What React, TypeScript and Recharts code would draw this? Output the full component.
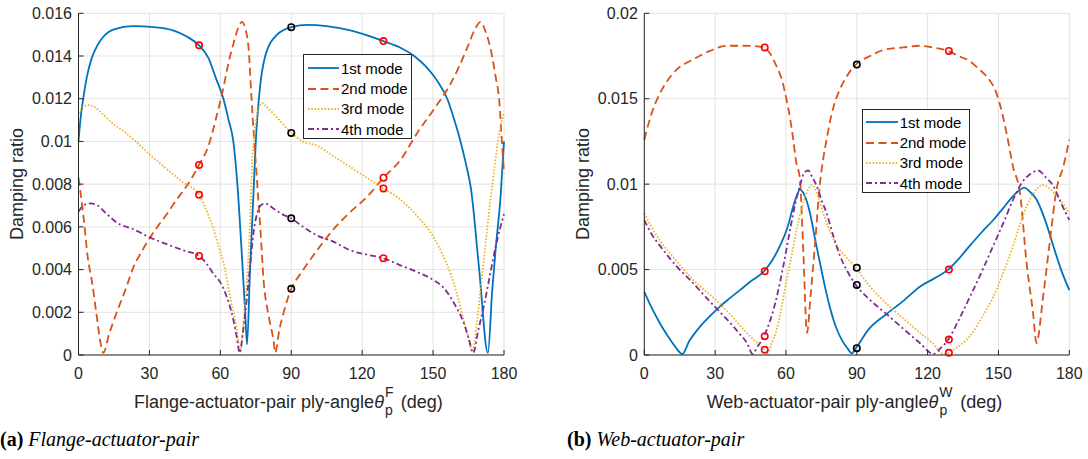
import React from 'react';
import {
  ComposedChart,
  Line,
  Scatter,
  XAxis,
  YAxis,
  CartesianGrid,
  Legend,
} from 'recharts';

type P = [number, number];

// ---------- shared ----------
const angleTicks = [0, 30, 60, 90, 120, 150, 180];
const modeNames = ['1st mode', '2nd mode', '3rd mode', '4th mode'];
const modeColors = ['#0072BD', '#D95319', '#EDB120', '#7E2F8E'];
const modeDashes = ['', '8 4.5', '1.5 1.8', '6 3 2 3'];

// ---------- (a) flange-actuator-pair ----------
const flangeYTicks = [0, 0.002, 0.004, 0.006, 0.008, 0.01, 0.012, 0.014, 0.016];

const flangeMode1: P[] = [
  [0, 0.01], [0.8, 0.011], [2, 0.012], [3.5, 0.013], [5.6, 0.0139], [8, 0.0145],
  [10.5, 0.0149], [15, 0.01525], [23, 0.0154], [32, 0.01535], [40, 0.0152], [46, 0.0149],
  [51, 0.0145], [55, 0.0139], [58, 0.013], [61.3, 0.012], [63.5, 0.011], [65.5, 0.01],
  [67.2, 0.008], [69.2, 0.0045], [70.5, 0.002], [71.3, 0.0005], [72.5, 0.0038],
  [74, 0.0075], [75, 0.01], [76.3, 0.012], [79, 0.014], [84, 0.015], [90, 0.01535],
  [97, 0.01546], [105, 0.0154], [115, 0.0152], [129, 0.0147], [136, 0.0144],
  [142, 0.014], [147, 0.0135], [152, 0.0128], [156, 0.012], [159, 0.011],
  [161.6, 0.01], [164, 0.0089], [166, 0.0078], [169.5, 0.004], [173.2, 0.0001],
  [175, 0.003], [176.5, 0.005], [178.6, 0.0075], [180, 0.01],
];
const flangeMode2: P[] = [
  [0, 0.0083], [2, 0.0066], [4, 0.0045], [5.6, 0.0035], [7.5, 0.002], [9.1, 0.0007],
  [10.5, 0.0001], [13, 0.001], [16.2, 0.002], [20, 0.0031], [23.2, 0.0041], [27, 0.0049],
  [30.3, 0.0055], [34, 0.0061], [37.4, 0.0066], [41, 0.0072], [44.4, 0.0077], [48, 0.0083],
  [51, 0.0089], [55, 0.0098], [58, 0.011], [61.4, 0.01257], [63.5, 0.0137], [65.6, 0.0146],
  [67.5, 0.0153], [69.2, 0.0156], [70.5, 0.0153], [72, 0.0143], [73.2, 0.012],
  [74.1, 0.0104], [75.5, 0.0082], [77, 0.0058], [78.3, 0.0035], [80.5, 0.0018],
  [82.6, 0.0006], [83.2, 0.0001], [85, 0.0012], [86.8, 0.002], [90, 0.0031],
  [93.9, 0.0038], [97, 0.0043], [100.9, 0.0049], [108, 0.0059], [115, 0.0067],
  [122, 0.0074], [129, 0.0083], [136, 0.0091], [143.3, 0.0104], [150.3, 0.0115],
  [157.4, 0.0127], [161, 0.0135], [164.5, 0.0144], [167.5, 0.0152], [170.1, 0.0156],
  [172, 0.0152], [174.4, 0.0143], [176.5, 0.013], [178, 0.0119], [179, 0.0102],
  [180, 0.0085],
];
const flangeMode3: P[] = [
  [0, 0.0113], [2, 0.0116], [4.2, 0.0117], [7, 0.0116], [10, 0.0113], [15, 0.0108],
  [20, 0.0104], [23.2, 0.0101], [30, 0.0094], [37.4, 0.0087], [44, 0.0081], [51, 0.0075],
  [54, 0.0068], [57.1, 0.0059], [59.5, 0.005], [61.4, 0.0043], [64.2, 0.0027],
  [67, 0.0012], [68.4, 0.00015], [70, 0.0018], [71.3, 0.0035], [72.7, 0.0066],
  [73.4, 0.0088], [74.5, 0.0104], [75.5, 0.0112], [77.6, 0.0118], [79.7, 0.0116],
  [85, 0.011], [90, 0.0104], [95, 0.01], [100.9, 0.0098], [108, 0.0093], [115, 0.0088],
  [122, 0.0083], [129, 0.0078], [136, 0.0073], [143.3, 0.0065], [150.3, 0.0055],
  [154, 0.0047], [157.4, 0.0038], [160, 0.0029], [163, 0.0016], [165, 0.0008],
  [166.6, 0.00015], [168.5, 0.0015], [170.5, 0.0035], [172.5, 0.0055], [174.3, 0.0073],
  [176, 0.0088], [178, 0.0104], [180, 0.0113],
];
const flangeMode4: P[] = [
  [0, 0.0067], [2, 0.007], [4.9, 0.0071], [8, 0.007], [12, 0.0066], [16.2, 0.0062],
  [23, 0.0059], [30.3, 0.0055], [37, 0.0052], [44.4, 0.0049], [51, 0.00464],
  [54, 0.0043], [57.1, 0.0038], [60, 0.0034], [62.8, 0.0027], [64.5, 0.0021],
  [65.6, 0.0016], [67, 0.0008], [68.2, 0.0001], [69.5, 0.001], [70.6, 0.002],
  [72.7, 0.0043], [74, 0.0057], [75.5, 0.0066], [77, 0.007], [79, 0.0071], [82, 0.0069],
  [86, 0.0066], [90, 0.0064], [95, 0.006], [100.9, 0.0056], [108, 0.0053], [115, 0.0049],
  [122, 0.0047], [129, 0.00453], [136.2, 0.0042], [143, 0.0039], [150.3, 0.0035],
  [154, 0.0032], [157.4, 0.0027], [160, 0.0022], [163, 0.0015], [165, 0.0008],
  [167, 0.0001], [169, 0.0011], [171.5, 0.0023], [174, 0.0037], [176.5, 0.0051],
  [178.5, 0.006], [180, 0.0066],
];
const flangeRedMarks: P[] = [
  [51, 0.0145], [51, 0.0089], [51, 0.0075], [51, 0.00464],
  [129, 0.0147], [129, 0.0083], [129, 0.0078], [129, 0.00453],
];
const flangeBlackMarks: P[] = [[90, 0.01535], [90, 0.0104], [90, 0.0064], [90, 0.0031]];

// ---------- (b) web-actuator-pair ----------
const webYTicks = [0, 0.005, 0.01, 0.015, 0.02];

const webMode1: P[] = [
  [0, 0.0037], [3, 0.0028], [6.6, 0.00186], [10, 0.0011], [13, 0.0005], [16.1, 0.00006],
  [19, 0.0008], [23.6, 0.00166], [28, 0.0023], [32, 0.00283], [36, 0.0033], [40.5, 0.0038],
  [45, 0.0043], [50.7, 0.0049], [54, 0.0055], [57.5, 0.0064], [60.5, 0.0074],
  [63.1, 0.0087], [64.8, 0.0094], [65.9, 0.0097], [67.3, 0.0095], [70.2, 0.0083],
  [72.3, 0.0068], [74.4, 0.0054], [76.5, 0.004], [78.6, 0.0028], [81, 0.0017],
  [84, 0.0008], [86, 0.0004], [87.8, 0.0001], [89.6, 0.0004], [95, 0.0015],
  [102.6, 0.0024], [110, 0.0032], [116.7, 0.004], [123, 0.0045], [128.7, 0.005],
  [133, 0.0056], [137.9, 0.0064], [143, 0.0072], [147.8, 0.0079], [152, 0.0086],
  [156.2, 0.0093], [158.5, 0.0096], [160.8, 0.0098], [163, 0.0096], [166.1, 0.0091],
  [169.5, 0.008], [173.2, 0.0064], [176.5, 0.005], [180, 0.0038],
];
const webMode2: P[] = [
  [0, 0.0126], [3, 0.0141], [6.6, 0.0153], [10, 0.0161], [13.7, 0.0167], [20.7, 0.0173],
  [27.8, 0.0178], [34.9, 0.0181], [42, 0.0181], [47, 0.01808], [50.7, 0.018],
  [53.5, 0.0176], [56, 0.0169], [58.5, 0.016], [60.3, 0.0149], [61.8, 0.0138],
  [63.1, 0.0126], [64.2, 0.0114], [65.9, 0.0103], [67.4, 0.0059], [68.9, 0.0013],
  [70.5, 0.0036], [72.3, 0.0065], [74.3, 0.0099], [75.8, 0.0115], [77.2, 0.0126],
  [79, 0.0139], [81, 0.0149], [83, 0.0156], [85.7, 0.0163], [89.6, 0.017],
  [95.6, 0.0175], [102.6, 0.0179], [109.7, 0.018], [116.7, 0.0181], [122, 0.018],
  [128.7, 0.0178], [133, 0.0175], [137.9, 0.0172], [142, 0.0167], [145, 0.0163],
  [149.2, 0.0153], [151.5, 0.0142], [153.4, 0.013], [156.2, 0.011], [159.1, 0.0095],
  [161.9, 0.0054], [164.7, 0.0024], [166.1, 0.0007], [168.9, 0.0034], [171.8, 0.0067],
  [174.6, 0.0097], [177.4, 0.011], [180, 0.0126],
];
const webMode3: P[] = [
  [0, 0.0083], [3, 0.0075], [6.6, 0.0067], [13, 0.0056], [20.7, 0.0044], [28, 0.0035],
  [34.9, 0.0026], [40, 0.0018], [43.4, 0.0013], [47, 0.0008], [50.7, 0.0003],
  [51.8, 0.00006], [54, 0.0007], [56.1, 0.0015], [58, 0.0027], [60.3, 0.0044],
  [62.5, 0.0059], [64.5, 0.0073], [66.5, 0.0085], [68.8, 0.0095], [71.1, 0.00996],
  [73.5, 0.0093], [75.8, 0.0083], [78.5, 0.0073], [81.5, 0.0064], [85, 0.0058],
  [89.6, 0.0051], [95, 0.0041], [102.6, 0.003], [110, 0.0021], [116.7, 0.0013],
  [122, 0.0007], [126.6, 0.00006], [128.7, 0.00013], [132, 0.0004], [137.9, 0.0011],
  [143, 0.0022], [147.8, 0.0034], [152, 0.0048], [156.2, 0.0064], [159, 0.0076],
  [161.9, 0.0087], [165, 0.0095], [168.7, 0.00996], [172, 0.0097], [176, 0.0091],
  [180, 0.0083],
];
const webMode4: P[] = [
  [0, 0.0079], [3, 0.0071], [6.6, 0.0064], [13, 0.0053], [20.7, 0.0042], [28, 0.0031],
  [34.9, 0.0021], [40, 0.0013], [43.5, 0.0007], [45.9, 0.00006], [48, 0.0005],
  [50.7, 0.0011], [53.5, 0.0021], [56.1, 0.0034], [59, 0.0053], [61.7, 0.0073],
  [64, 0.0089], [65.9, 0.0099], [67.5, 0.0106], [69.4, 0.0108], [71.2, 0.0104],
  [73, 0.0099], [75, 0.0091], [77.2, 0.0083], [80, 0.007], [82.9, 0.0058], [86, 0.0049],
  [89.6, 0.0041], [95, 0.0033], [102.6, 0.0024], [110, 0.0015], [116.7, 0.0007],
  [122.4, 0.00006], [125.5, 0.0004], [128.7, 0.0009], [133, 0.002], [137.9, 0.0034],
  [143, 0.0049], [147.8, 0.0064], [152, 0.0077], [156.2, 0.0091], [160, 0.0101],
  [163.5, 0.0106], [166.8, 0.0108], [170, 0.0104], [173.2, 0.0099], [176.5, 0.0089],
  [180, 0.0079],
];
const webRedMarks: P[] = [
  [51, 0.018], [51, 0.0049], [51, 0.0011], [51, 0.0003],
  [129, 0.0178], [129, 0.005], [129, 0.0009], [129, 0.00013],
];
const webBlackMarks: P[] = [[90, 0.017], [90, 0.0051], [90, 0.0041], [90, 0.0004]];

// ---------- helpers ----------
const toPts = (a: P[]) => a.map(([x, y]) => ({ x, y }));
const SANS = '"Liberation Sans", Arial, Helvetica, sans-serif';
const AX = '#262626';

const ringShape = (color: string) => (props: any) => (
  <circle cx={props.cx} cy={props.cy} r={3.2} fill="none" stroke={color} strokeWidth={1.6} />
);

function LegendBox({ w, h, padTop, lineX0 }: { w: number; h: number; padTop: number; lineX0: number }) {
  return (
    <div
      style={{
        width: w,
        height: h,
        boxSizing: 'border-box',
        border: `1px solid ${AX}`,
        background: '#fff',
        paddingTop: padTop,
        fontFamily: SANS,
        fontSize: 15,
        color: '#000',
      }}
    >
      {modeNames.map((n, i) => (
        <div key={n} style={{ display: 'flex', alignItems: 'center', height: 20.4, whiteSpace: 'nowrap' }}>
          <svg width={36} height={10} style={{ display: 'block', flex: 'none' }}>
            <line
              x1={lineX0}
              x2={35}
              y1={5}
              y2={5}
              stroke={modeColors[i]}
              strokeWidth={1.8}
              strokeDasharray={modeDashes[i] || undefined}
            />
          </svg>
          <span style={{ marginLeft: 1 }}>{n}</span>
        </div>
      ))}
    </div>
  );
}

type PanelProps = {
  modes: P[][];
  red: P[];
  black: P[];
  yTicks: number[];
  yMax: number;
  marginLeft: number;
  marginRight: number;
  xLabelStart: number;
  xLabelMain: string;
  xSup: string;
  yLabelX: number;
  legend: { left: number; top: number; w: number; h: number; padTop: number; lineX0: number };
};

function Panel(p: PanelProps) {
  const xLabel = () => (
    <text x={p.xLabelStart} y={408} fontFamily={SANS} fontSize={18} fill={AX} textAnchor="start">
      {p.xLabelMain}
      <tspan fontStyle="italic">θ</tspan>
      <tspan fontSize={14} dx={1} dy={-11}>{p.xSup}</tspan>
      <tspan fontSize={14} dx={p.xSup === 'W' ? -13 : -8.5} dy={18}>p</tspan>
      <tspan dx={p.xSup === 'W' ? 8 : 3} dy={-7}> (deg)</tspan>
    </text>
  );
  const yLabel = () => (
    <text
      x={p.yLabelX}
      y={184}
      transform={`rotate(-90, ${p.yLabelX}, 184)`}
      textAnchor="middle"
      fontFamily={SANS}
      fontSize={18}
      fill={AX}
    >
      Damping ratio
    </text>
  );
  return (
    <ComposedChart
      width={560}
      height={459}
      margin={{ top: 13.3, left: p.marginLeft, right: p.marginRight, bottom: 44 }}
    >
      <CartesianGrid stroke="#e2e2e2" strokeWidth={1} />
      <XAxis
        type="number"
        dataKey="x"
        domain={[0, 180]}
        ticks={angleTicks}
        interval={0}
        height={60}
        tickSize={-5}
        tickMargin={17.6}
        stroke={AX}
        tick={{ fill: AX, fontSize: 16, fontFamily: SANS }}
        label={{ content: xLabel }}
      />
      <XAxis
        xAxisId="top"
        orientation="top"
        type="number"
        domain={[0, 180]}
        ticks={angleTicks}
        interval={0}
        height={0}
        tickSize={-5}
        tick={false}
        stroke={AX}
      />
      <YAxis
        type="number"
        domain={[0, p.yMax]}
        ticks={p.yTicks}
        interval={0}
        width={60}
        tickSize={-5}
        tickMargin={11.5}
        stroke={AX}
        tick={{ fill: AX, fontSize: 16, fontFamily: SANS }}
        label={{ content: yLabel }}
      />
      <YAxis
        yAxisId="right"
        orientation="right"
        type="number"
        domain={[0, p.yMax]}
        ticks={p.yTicks}
        interval={0}
        width={0}
        tickSize={-5}
        tick={false}
        stroke={AX}
      />
      {p.modes.map((m, i) => (
        <Line
          key={modeNames[i]}
          name={modeNames[i]}
          data={toPts(m)}
          dataKey="y"
          type="monotone"
          stroke={modeColors[i]}
          strokeWidth={1.8}
          strokeDasharray={modeDashes[i] || undefined}
          dot={false}
          activeDot={false}
          isAnimationActive={false}
        />
      ))}
      <Scatter
        name="red"
        data={toPts(p.red)}
        dataKey="y"
        shape={ringShape('#ff0000')}
        legendType="none"
        isAnimationActive={false}
      />
      <Scatter
        name="black"
        data={toPts(p.black)}
        dataKey="y"
        shape={ringShape('#000000')}
        legendType="none"
        isAnimationActive={false}
      />
      <Legend
        layout="vertical"
        align="center"
        verticalAlign="middle"
        wrapperStyle={{ left: p.legend.left, top: p.legend.top, width: p.legend.w, height: p.legend.h }}
        content={() => (
          <LegendBox w={p.legend.w} h={p.legend.h} padTop={p.legend.padTop} lineX0={p.legend.lineX0} />
        )}
      />
    </ComposedChart>
  );
}

const captionStyle: React.CSSProperties = {
  position: 'absolute',
  top: 428.6,
  fontFamily: '"Liberation Serif", "Times New Roman", serif',
  fontSize: 20,
  lineHeight: '20px',
  color: '#000',
  whiteSpace: 'nowrap',
};

export default function App() {
  return (
    <div style={{ position: 'absolute', left: 0, top: 0, width: 1088, height: 459, background: '#fff', overflow: 'hidden' }}>
      <div style={{ position: 'absolute', left: 0, top: 0 }}>
        <Panel
          modes={[flangeMode1, flangeMode2, flangeMode3, flangeMode4]}
          red={flangeRedMarks}
          black={flangeBlackMarks}
          yTicks={flangeYTicks}
          yMax={0.016}
          marginLeft={18.5}
          marginRight={56}
          xLabelStart={134}
          xLabelMain="Flange-actuator-pair ply-angle"
          xSup="F"
          yLabelX={23}
          legend={{ left: 303, top: 54, w: 109, h: 85, padTop: 3, lineX0: 4 }}
        />
      </div>
      <div style={{ position: 'absolute', left: 560, top: 0 }}>
        <Panel
          modes={[webMode1, webMode2, webMode3, webMode4]}
          red={webRedMarks}
          black={webBlackMarks}
          yTicks={webYTicks}
          yMax={0.02}
          marginLeft={24.3}
          marginRight={50.7}
          xLabelStart={146.7}
          xLabelMain="Web-actuator-pair ply-angle"
          xSup="W"
          yLabelX={29}
          legend={{ left: 301.7, top: 109, w: 108, h: 84, padTop: 2, lineX0: 3 }}
        />
      </div>
      <div style={{ ...captionStyle, left: 0 }}>
        <b>(a)</b> <i>Flange-actuator-pair</i>
      </div>
      <div style={{ ...captionStyle, left: 567 }}>
        <b>(b)</b> <i>Web-actuator-pair</i>
      </div>
    </div>
  );
}
